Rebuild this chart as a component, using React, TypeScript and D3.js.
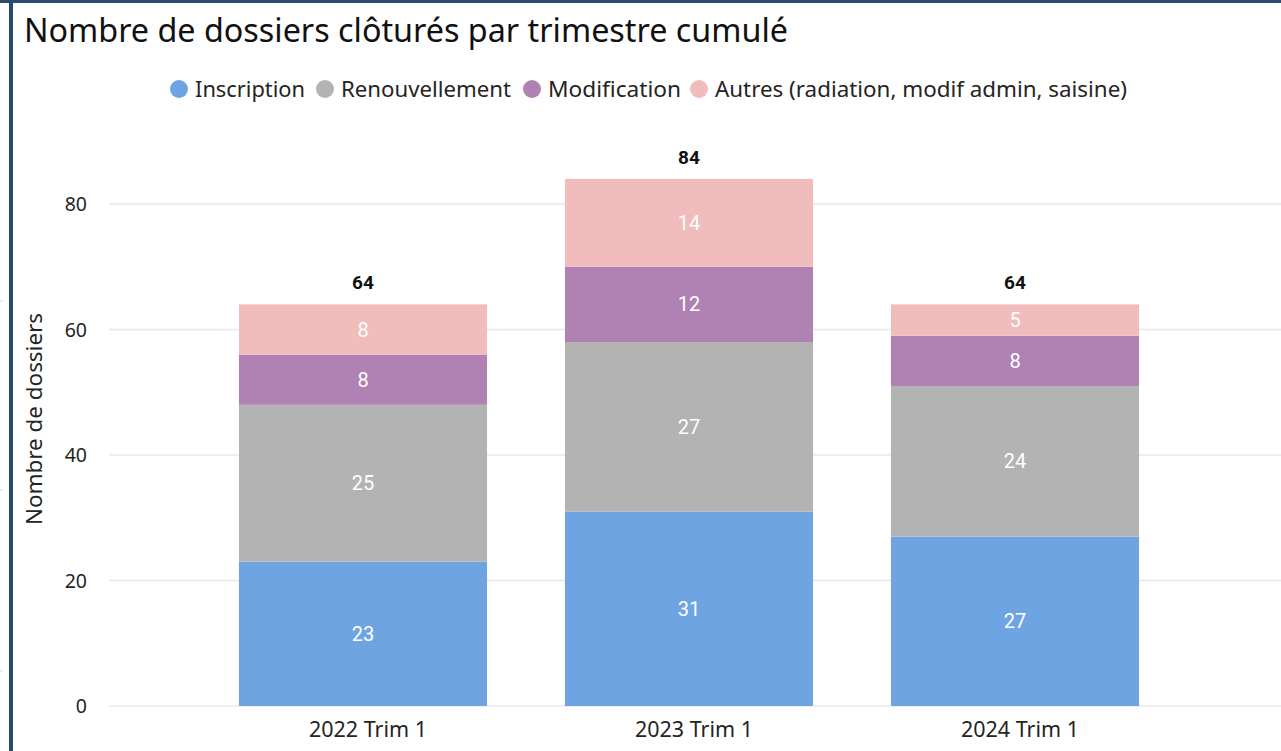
import React from "react";
import * as d3 from "d3";

const categories = ["2022 Trim 1", "2023 Trim 1", "2024 Trim 1"];
const seriesNames = ["Inscription", "Renouvellement", "Modification", "Autres (radiation, modif admin, saisine)"];
const inscription = [23, 31, 27];
const renouvellement = [25, 27, 24];
const modification = [8, 12, 8];
const autres = [8, 14, 5];
const yTicks = [0, 20, 40, 60, 80];
const colors = ["#6fa4e3", "#b3b3b3", "#af82b3", "#f0bcbc"];

const W = 1281;
const H = 751;
const FONT = "'Segoe UI', 'Noto Sans', 'Open Sans', sans-serif";
const LABEL_FONT = "'DIN', 'Roboto', 'DejaVu Sans', sans-serif";

export default function App() {
  const rows = categories.map((c, i) => ({
    cat: c,
    s0: inscription[i],
    s1: renouvellement[i],
    s2: modification[i],
    s3: autres[i],
  }));
  const keys = ["s0", "s1", "s2", "s3"];
  const stack = d3.stack<any>().keys(keys)(rows);

  const x = d3.scaleBand<string>().domain(categories).range([200, 1178]).paddingInner(0.239).paddingOuter(0.1195);
  const y = d3.scaleLinear().domain([0, 80]).range([706, 204]);
  const totals = rows.map((r) => r.s0 + r.s1 + r.s2 + r.s3);

  const legendCx = [179, 325, 532, 699];
  const legendLen = [110, 170, 133, 412];

  return (
    <div style={{ position: "fixed", left: 0, top: 0 }}>
      <svg width={W} height={H} style={{ display: "block", background: "#fff" }}>
        <rect x={0} y={0} width={W} height={3} fill="#2a4a70" />
        <rect x={9} y={0} width={4} height={H} fill="#2a4a70" />
        {[300, 489, 670].map((yy) => (
          <rect key={yy} x={0} y={yy} width={3} height={1.5} fill="#e6e6e6" />
        ))}
        <text x={24} y={42} fontFamily={FONT} fontSize={32} fill="#111" textLength={764} lengthAdjust="spacingAndGlyphs">
          Nombre de dossiers clôturés par trimestre cumulé
        </text>
        {seriesNames.map((n, i) => (
          <g key={n}>
            <circle cx={legendCx[i]} cy={89} r={9} fill={colors[i]} />
            <text
              x={legendCx[i] + 16}
              y={97}
              fontFamily={FONT}
              fontSize={22}
              fill="#252423"
              textLength={legendLen[i]}
              lengthAdjust="spacingAndGlyphs"
            >
              {n}
            </text>
          </g>
        ))}
        {yTicks.map((t) => (
          <g key={t}>
            <line x1={109} x2={W} y1={y(t)} y2={y(t)} stroke="#e8e8e8" strokeWidth={1.5} />
            <text x={87} y={y(t) + 7} textAnchor="end" fontFamily={FONT} fontSize={19.5} fill="#252423">
              {t}
            </text>
          </g>
        ))}
        <text
          transform={`translate(42, ${419}) rotate(-90)`}
          textAnchor="middle"
          fontFamily={FONT}
          fontSize={22}
          fill="#252423"
          textLength={212}
          lengthAdjust="spacingAndGlyphs"
        >
          Nombre de dossiers
        </text>
        {stack.map((layer, li) => (
          <g key={li}>
            {layer.map((d, i) => {
              const x0 = x(categories[i])!;
              const y0 = y(d[1]);
              const h = y(d[0]) - y(d[1]);
              const v = d[1] - d[0];
              return (
                <g key={i}>
                  <rect x={x0} y={y0} width={x.bandwidth()} height={h} fill={colors[li]} />
                  <text
                    x={x0 + x.bandwidth() / 2}
                    y={y0 + h / 2 + 7}
                    textAnchor="middle"
                    fontFamily={LABEL_FONT}
                    fontSize={20}
                    fill="#fff"
                  >
                    {v}
                  </text>
                </g>
              );
            })}
          </g>
        ))}
        {totals.map((t, i) => (
          <text
            key={i}
            x={x(categories[i])! + x.bandwidth() / 2}
            y={y(t) - 15}
            textAnchor="middle"
            fontFamily={LABEL_FONT}
            fontSize={19}
            fontWeight="bold"
            fill="#111"
          >
            {t}
          </text>
        ))}
        {categories.map((c) => (
          <text
            key={c}
            x={x(c)! + x.bandwidth() / 2 + 5}
            y={737}
            textAnchor="middle"
            fontFamily={FONT}
            fontSize={22}
            fill="#252423"
            textLength={118}
            lengthAdjust="spacingAndGlyphs"
          >
            {c}
          </text>
        ))}
      </svg>
    </div>
  );
}
